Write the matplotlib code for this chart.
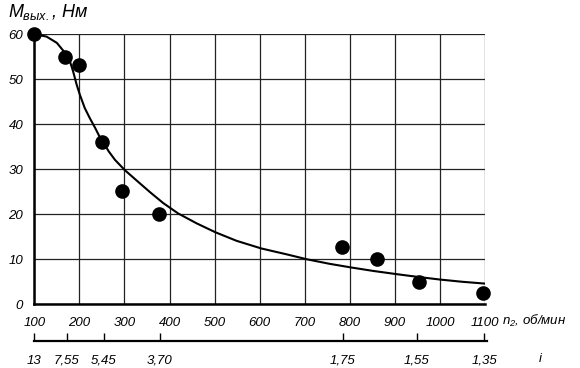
import matplotlib
matplotlib.use("Agg")
import matplotlib.pyplot as plt

# Data points (n2 rpm, M Nm)
n_points = [100, 168, 200, 251, 294, 376, 783, 861, 953, 1096]
m_points = [60, 55.0, 53.2, 36.0, 25.2, 20.1, 12.7, 10.1, 5.0, 2.6]

# Fitted curve
n_curve = [100, 127, 150, 168, 179, 186, 194, 201, 212, 223, 235, 246, 253, 265, 279, 301, 334,
           357, 386, 419, 460, 502, 549, 604, 660, 705, 755, 802, 853, 904, 950, 1000, 1050, 1100]
m_curve = [60, 59.5, 58.1, 55.9, 54.0, 51.8, 48.8, 46.6, 43.6, 41.4, 39.2, 37.0, 36.0, 34.0, 32.1, 29.8, 26.9,
           24.9, 22.5, 20.2, 18.0, 16.0, 14.1, 12.4, 11.1, 10.0, 9.0, 8.2, 7.4, 6.7, 6.1, 5.5, 5.0, 4.6]

x_ticks = [100, 200, 300, 400, 500, 600, 700, 800, 900, 1000, 1100]
y_ticks = [0, 10, 20, 30, 40, 50, 60]

i_pos = [100, 172, 254, 378, 784, 948, 1098]
i_labels = ["13", "7,55", "5,45", "3,70", "1,75", "1,55", "1,35"]

plt.rcParams['font.family'] = ['Liberation Sans', 'DejaVu Sans']
plt.rcParams['font.style'] = 'italic'
plt.rcParams['mathtext.fontset'] = 'custom'
plt.rcParams['mathtext.it'] = 'Liberation Sans:italic'
plt.rcParams['mathtext.rm'] = 'Liberation Sans:italic'

W, H = 580, 368
fig = plt.figure(figsize=(W / 100, H / 100), dpi=100)
x0, x1 = 34.3, 485
y0, y1 = 304.3, 34.3
ax = fig.add_axes([x0 / W, (H - y0) / H, (x1 - x0) / W, (y0 - y1) / H])
ax.set_xlim(100, 1100)
ax.set_ylim(0, 60)

for xv in x_ticks:
    ax.axvline(xv, color='#222222', lw=0.9, zorder=1)
for yv in y_ticks:
    ax.axhline(yv, color='#222222', lw=0.9, zorder=1)

for s in ['top', 'right']:
    ax.spines[s].set_visible(False)
for s in ['left', 'bottom']:
    ax.spines[s].set_linewidth(1.8)
    ax.spines[s].set_color('black')
    ax.spines[s].set_zorder(3)

ax.set_xticks(x_ticks)
ax.set_xticklabels([str(v) for v in x_ticks], fontsize=9.5, style='italic')
ax.set_yticks(y_ticks)
ax.set_yticklabels([str(v) for v in y_ticks], fontsize=9.5, style='italic')
ax.tick_params(axis='both', length=0)
ax.tick_params(axis='x', pad=9)
ax.tick_params(axis='y', pad=8)

ax.plot(n_curve, m_curve, color='black', lw=1.5, zorder=4, solid_capstyle='round', solid_joinstyle='round')
ax.plot(n_points, m_points, 'o', color='black', markersize=9.5, zorder=5, clip_on=False)

fig.text(8 / W, 1 - 12 / H, r'$M_{вых.}$, Нм', fontsize=13, style='italic', va='center', ha='left')
fig.text(502 / W, 1 - 321 / H, r'$n_2$, об/мин', fontsize=9.5, style='italic', va='center', ha='left')
fig.text(539 / W, 1 - 359 / H, 'i', fontsize=9.5, style='italic', va='center', ha='left')

# secondary i axis
ay = 341
ax2 = fig.add_axes([x0 / W, (H - ay) / H, (487 - x0) / W, 0.0001])
ax2.set_xlim(100, 100 + (487 - x0) / 0.451)
ax2.set_ylim(0, 1)
for s in ['top', 'left', 'right']:
    ax2.spines[s].set_visible(False)
ax2.spines['bottom'].set_linewidth(1.6)
ax2.set_yticks([])
ax2.set_xticks(i_pos)
ax2.set_xticklabels(i_labels, fontsize=9.5, style='italic')
ax2.tick_params(axis='x', direction='in', length=6, width=1.0, pad=10)
ax2.patch.set_visible(False)

fig.savefig('out.png', dpi=100)
